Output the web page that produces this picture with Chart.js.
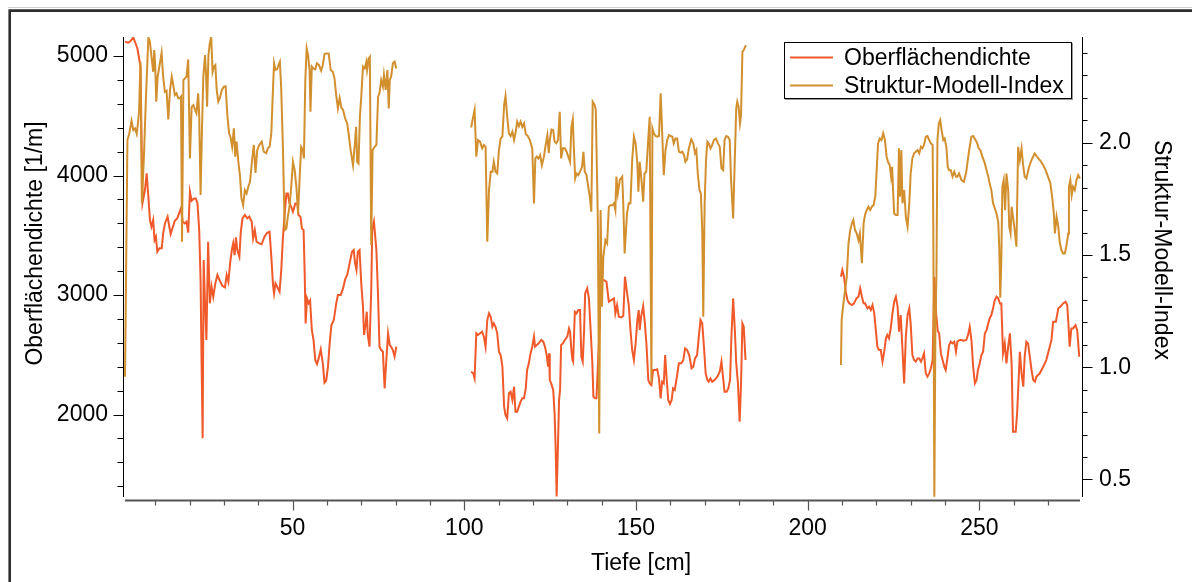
<!DOCTYPE html>
<html>
<head>
<meta charset="utf-8">
<script src="https://cdn.jsdelivr.net/npm/chart.js@4.4.1/dist/chart.umd.min.js"></script>
<style>
  body { margin: 0; background: #fff; }
  canvas { display: block; }
</style>
</head>
<body>
<canvas id="myChart" width="1192" height="582"></canvas>
<script>
// Oberflächendichte [1/m] gegen Tiefe [cm], drei Kernabschnitte
var dichte1 = [[1.2,5120],[2.1,5112],[2.8,5126],[3.6,5156],[4.1,5120],[4.8,5064],[5.3,4980],[5.7,4911],[6.3,3773],[7.0,3879],[7.5,4018],[8.0,3823],[8.45,3628],[8.9,3572],[9.4,3628],[9.8,3460],[10.2,3488],[10.6,3363],[11.2,3391],[11.9,3391],[12.3,3516],[12.9,3606],[13.6,3656],[14.1,3572],[14.5,3511],[15.0,3558],[15.7,3622],[16.4,3642],[17.0,3689],[17.5,3726],[18.0,3614],[18.6,3600],[19.1,3614],[19.6,3522],[20.1,3865],[20.6,3790],[21.3,3809],[21.8,3809],[22.3,3767],[22.8,3544],[23.2,3126],[23.5,2429],[23.8,1801],[24.1,3293],[24.5,2931],[24.9,2624],[25.4,3447],[25.9,2931],[26.4,3070],[26.9,2986],[27.5,3098],[28.1,3168],[28.8,3120],[29.6,3076],[30.3,3065],[30.8,3168],[31.3,3112],[31.8,3265],[32.3,3377],[32.7,3433],[33.1,3335],[33.5,3483],[33.9,3377],[34.5,3321],[34.9,3522],[35.4,3642],[36.1,3670],[36.8,3642],[37.4,3656],[38.1,3614],[38.5,3474],[39.0,3544],[39.5,3447],[40.3,3433],[41.0,3425],[41.8,3488],[42.6,3522],[43.3,3530],[43.8,3321],[44.3,3084],[44.6,3014],[45.0,3098],[45.5,3070],[46.2,3028],[46.7,3210],[47.2,3488],[47.7,3684],[48.2,3851],[48.6,3851],[49.1,3767],[49.6,3739],[50.1,3698],[50.8,3767],[51.4,3767],[51.7,3670],[52.3,3656],[52.7,3558],[53.2,3544],[53.5,3210],[53.8,2763],[54.2,2972],[54.7,2931],[55.1,2953],[55.6,2708],[56.1,2624],[56.6,2457],[57.1,2423],[57.6,2470],[58.2,2546],[58.8,2429],[59.3,2267],[59.8,2284],[60.3,2401],[60.8,2596],[61.3,2749],[62.0,2791],[62.7,2931],[63.2,3000],[64.0,3000],[64.7,3056],[65.3,3131],[65.9,3168],[66.6,3265],[67.3,3363],[67.8,3377],[68.2,3265],[68.6,3210],[69.0,3363],[69.5,3377],[70.0,3098],[70.5,2903],[70.8,2666],[71.3,2763],[71.6,2861],[71.9,2666],[72.4,2568],[72.9,3042],[73.2,3544],[73.7,3614],[74.4,3377],[74.9,2986],[75.3,2568],[75.8,2540],[76.3,2526],[76.8,2219],[77.3,2457],[77.8,2680],[78.3,2582],[78.7,2568],[79.2,2540],[79.7,2485],[80.2,2568]];
var dichte2 = [[102.0,2359],[102.6,2345],[103.0,2303],[103.5,2680],[104.0,2666],[104.6,2680],[105.2,2694],[105.7,2652],[106.2,2568],[106.7,2791],[107.2,2847],[107.7,2819],[108.2,2735],[108.6,2763],[109.1,2735],[109.6,2680],[110.1,2526],[110.6,2498],[111.1,2401],[111.6,2066],[112.0,1996],[112.5,1968],[113.0,2178],[113.5,2191],[114.0,2122],[114.5,2233],[114.9,2024],[115.4,2024],[115.9,2066],[116.4,2108],[116.9,2136],[117.4,2136],[117.9,2219],[118.3,2373],[118.8,2429],[119.3,2512],[119.8,2568],[120.3,2652],[120.6,2568],[121.1,2582],[121.7,2596],[122.4,2624],[123.0,2610],[123.5,2568],[124.0,2498],[124.4,2401],[124.7,2512],[124.9,2289],[125.3,2261],[125.9,2206],[126.3,2010],[126.6,1731],[126.9,1315],[127.3,1759],[127.6,2122],[127.9,2206],[128.2,2582],[128.7,2596],[129.3,2624],[130.0,2652],[130.5,2721],[130.8,2693],[131.2,2540],[131.5,2457],[131.7,2443],[132.2,2861],[132.7,2847],[133.2,2875],[133.7,2875],[134.1,2485],[134.5,2443],[134.9,2708],[135.2,3014],[135.8,3056],[136.3,2972],[136.8,2708],[137.3,2429],[137.6,2150],[138.1,2136],[138.5,2136],[139.2,2600],[139.8,3120],[140.3,3130],[140.65,3126],[141.4,3112],[142.1,2944],[142.8,2958],[143.6,2972],[144.0,2847],[144.5,2917],[145.0,2819],[145.7,2813],[146.3,2825],[146.8,3154],[147.3,3042],[147.9,2917],[148.4,2708],[148.9,2540],[149.4,2457],[149.9,2596],[150.4,2791],[150.8,2875],[151.1,2708],[151.5,2819],[152.1,2908],[152.6,2763],[153.1,2568],[153.6,2289],[154.0,2261],[154.5,2247],[155.0,2373],[155.7,2373],[156.2,2379],[156.7,2303],[157.2,2136],[157.6,2275],[158.1,2261],[158.5,2498],[158.9,2317],[159.4,2122],[159.9,2088],[160.4,2122],[160.8,2219],[161.3,2206],[162.0,2331],[162.5,2429],[163.2,2429],[163.8,2457],[164.3,2554],[164.9,2540],[165.5,2498],[166.2,2387],[166.7,2401],[167.2,2470],[167.8,2498],[168.3,2652],[168.8,2791],[169.3,2763],[169.8,2568],[170.3,2345],[170.8,2289],[171.2,2275],[171.7,2303],[172.2,2275],[172.9,2289],[173.7,2317],[174.4,2359],[174.9,2443],[175.4,2303],[175.8,2191],[176.4,2191],[176.9,2219],[177.4,2289],[177.8,2652],[178.3,2972],[178.8,2708],[179.2,2429],[179.7,2261],[180.2,1941],[180.6,2261],[181.0,2763],[181.4,2735],[181.9,2457]];
var dichte3 = [[209.7,3154],[210.1,3210],[210.6,3154],[211.1,3028],[211.6,2958],[212.1,2931],[212.9,2917],[213.5,2931],[214.2,2972],[214.8,2986],[215.3,3056],[215.8,2986],[216.3,2931],[216.7,2931],[217.4,2889],[217.9,2903],[218.4,2875],[218.9,2917],[219.4,2847],[219.9,2694],[220.3,2568],[220.8,2540],[221.3,2540],[221.8,2443],[222.3,2526],[222.8,2638],[223.2,2666],[223.7,2638],[224.2,2721],[224.7,2847],[225.2,2944],[225.7,2986],[226.2,2903],[226.6,2694],[227.1,2833],[227.6,2554],[228.1,2261],[228.6,2652],[229.1,2833],[229.6,2889],[230.0,2763],[230.5,2498],[231.0,2457],[231.5,2443],[232.0,2470],[232.5,2470],[233.0,2443],[233.4,2470],[233.9,2512],[234.4,2345],[234.9,2317],[235.4,2345],[235.9,2387],[236.4,2457],[236.9,3150],[237.4,2850],[237.9,2700],[238.3,2680],[238.8,2512],[239.3,2457],[239.8,2401],[240.2,2373],[240.7,2470],[241.2,2582],[241.7,2610],[242.2,2596],[242.7,2610],[243.2,2526],[243.6,2610],[244.3,2624],[244.8,2624],[245.3,2618],[246.2,2624],[246.7,2665],[247.2,2735],[247.7,2624],[248.2,2400],[248.7,2261],[249.2,2289],[249.6,2373],[250.1,2428],[250.6,2498],[251.1,2526],[251.6,2679],[252.1,2707],[252.6,2763],[253.0,2805],[253.5,2833],[254.0,2889],[254.5,2958],[255.0,2986],[255.5,2972],[256.0,2930],[256.4,2930],[256.9,2512],[257.4,2596],[257.9,2428],[258.4,2568],[258.9,2679],[259.4,2428],[259.8,1857],[260.6,1857],[261.0,2010],[261.4,2261],[261.8,2526],[262.3,2345],[262.8,2233],[263.2,2484],[263.7,2610],[264.2,2596],[264.7,2484],[265.2,2373],[265.7,2289],[266.2,2275],[266.6,2317],[267.6,2345],[268.6,2400],[269.5,2456],[270.5,2568],[271.0,2624],[271.5,2777],[272.3,2777],[273.0,2889],[273.6,2903],[274.4,2930],[275.1,2944],[275.6,2916],[276.0,2735],[276.3,2568],[276.8,2721],[277.3,2721],[278.0,2749],[278.5,2707],[279.1,2484]];

// Struktur-Modell-Index gegen Tiefe [cm]
var smi1 = [[1.2,0.958],[1.9,2.012],[2.4,2.039],[3.1,2.098],[3.6,2.056],[4.1,2.064],[4.6,2.039],[5.05,2.098],[5.3,2.146],[5.7,2.361],[6.1,1.730],[6.7,1.938],[7.3,2.205],[8.0,2.469],[8.45,2.45],[8.9,2.383],[9.4,2.316],[9.7,2.413],[10.0,2.339],[10.3,2.183],[10.7,2.294],[11.2,2.339],[11.85,2.401],[12.3,2.294],[12.8,2.227],[13.3,2.232],[13.8,2.104],[14.3,2.235],[14.8,2.294],[15.2,2.261],[15.7,2.212],[16.2,2.220],[16.7,2.198],[17.2,2.198],[17.5,2.205],[17.8,1.559],[18.2,2.279],[18.6,2.287],[19.1,2.294],[19.6,2.371],[20.1,1.930],[20.6,2.160],[21.1,2.168],[21.6,2.146],[22.0,2.131],[22.5,2.220],[22.8,2.123],[23.2,1.767],[23.6,2.056],[24.0,2.294],[24.5,2.391],[24.8,2.302],[25.1,2.160],[25.5,2.391],[25.9,2.443],[26.3,2.472],[26.7,2.316],[27.1,2.339],[27.5,2.346],[27.9,2.235],[28.35,2.183],[28.8,2.198],[29.4,2.235],[30.0,2.250],[30.5,2.252],[31.0,2.123],[31.5,2.042],[31.9,2.027],[32.4,1.982],[32.9,2.064],[33.3,1.938],[33.7,2.005],[34.2,1.915],[34.7,1.849],[35.1,1.752],[35.6,1.722],[36.1,1.789],[36.6,1.774],[37.1,1.804],[37.6,1.826],[38.2,1.923],[38.7,1.990],[39.2,1.866],[39.7,1.967],[40.3,1.990],[41.0,2.005],[41.6,1.96],[42.3,1.953],[42.8,1.975],[43.3,1.982],[43.8,2.042],[44.2,2.205],[44.6,2.354],[45.0,2.324],[45.5,2.327],[45.9,2.346],[46.3,2.361],[46.7,2.235],[47.2,1.967],[47.7,1.611],[48.2,1.618],[48.6,1.670],[49.1,1.715],[49.6,1.804],[50.1,1.915],[50.6,1.878],[51.1,1.804],[51.6,1.685],[52.0,1.826],[52.5,1.982],[53.0,1.967],[53.3,1.930],[53.7,2.279],[54.1,2.420],[54.5,2.391],[54.95,2.324],[55.2,2.138],[55.6,2.339],[56.0,2.331],[56.6,2.327],[57.1,2.354],[57.7,2.346],[58.3,2.321],[58.8,2.346],[59.3,2.395],[59.8,2.398],[60.5,2.398],[61.1,2.324],[61.7,2.316],[62.2,2.287],[62.7,2.212],[63.2,2.153],[63.7,2.198],[64.2,2.157],[64.7,2.146],[65.3,2.108],[65.9,2.086],[66.3,2.042],[66.9,1.967],[67.6,1.900],[68.1,1.990],[68.5,2.071],[68.8,1.915],[69.2,1.908],[69.6,2.116],[70.0,2.205],[70.5,2.339],[71.0,2.331],[71.5,2.361],[71.7,2.324],[72.2,2.376],[72.5,2.383],[72.9,1.544],[73.3,1.967],[73.9,1.982],[74.4,1.990],[74.9,2.205],[75.3,2.220],[75.8,2.279],[76.3,2.250],[76.6,2.302],[77.1,2.235],[77.6,2.324],[78.0,2.153],[78.3,2.279],[78.7,2.294],[79.2,2.354],[79.7,2.361],[80.2,2.331]];
var smi2 = [[102.0,2.068],[102.4,2.101],[103.0,2.146],[103.5,1.938],[104.0,2.012],[104.6,2.005],[105.2,1.975],[105.7,1.990],[106.2,1.982],[106.7,1.559],[107.2,1.789],[107.7,1.871],[108.2,1.871],[108.6,1.915],[109.1,1.871],[109.6,1.863],[110.1,1.967],[110.6,2.019],[111.1,2.027],[111.6,2.168],[112.0,2.208],[112.5,2.116],[113.0,2.042],[113.5,2.030],[114.0,2.049],[114.5,2.012],[114.9,2.042],[115.4,2.094],[115.9,2.074],[116.4,2.094],[116.9,2.071],[117.4,2.086],[117.9,2.039],[118.5,2.030],[119.1,2.012],[119.8,1.975],[120.3,1.730],[120.7,1.930],[121.1,1.938],[121.6,1.930],[122.1,1.945],[122.6,1.900],[123.2,1.938],[123.7,1.990],[124.2,2.034],[124.6,1.953],[124.9,2.012],[125.4,2.059],[125.9,2.057],[126.3,2.005],[126.8,1.997],[127.3,2.012],[127.8,2.138],[128.2,1.930],[128.7,1.975],[129.3,1.975],[129.8,1.960],[130.3,1.938],[130.8,1.915],[131.2,2.071],[131.6,2.104],[131.9,1.982],[132.3,1.841],[132.7,1.863],[133.2,1.856],[133.7,1.871],[134.3,1.893],[134.7,1.960],[135.1,1.871],[135.6,1.856],[136.1,1.804],[136.6,1.752],[137.0,1.693],[137.4,2.183],[138.0,2.168],[138.3,2.146],[138.9,1.656],[139.3,0.705],[139.7,1.700],[140.1,1.270],[140.5,1.492],[141.1,1.566],[141.6,1.552],[142.1,1.715],[142.6,1.722],[143.1,1.722],[143.6,1.730],[144.0,1.700],[144.3,1.849],[144.7,1.774],[145.3,1.834],[146.0,1.849],[146.3,1.730],[146.7,1.507],[147.1,1.611],[147.4,1.685],[147.9,1.730],[148.4,1.730],[148.9,1.923],[149.4,2.027],[149.9,1.997],[150.4,1.908],[150.7,1.782],[151.1,1.915],[151.6,1.834],[152.1,1.737],[152.5,1.863],[153.0,1.871],[153.5,1.997],[154.0,2.116],[154.2,1.611],[154.5,0.928],[154.8,2.064],[155.2,2.042],[155.7,2.030],[156.2,2.027],[156.7,2.030],[157.2,2.220],[157.6,2.057],[158.1,1.856],[158.6,1.967],[159.1,2.012],[159.6,2.034],[160.1,2.030],[160.6,2.027],[161.0,1.997],[161.5,2.019],[162.0,2.019],[162.5,1.960],[163.0,1.956],[163.5,1.960],[164.0,1.945],[164.4,1.915],[164.9,1.926],[165.4,1.975],[166.1,2.015],[166.7,1.997],[167.2,1.953],[167.6,1.967],[168.0,1.863],[168.5,1.789],[168.9,1.774],[169.3,1.611],[169.6,1.225],[170.0,1.730],[170.4,1.923],[170.8,2.005],[171.2,1.997],[171.7,1.975],[172.2,1.990],[172.7,2.012],[173.3,2.019],[173.9,1.997],[174.4,1.982],[174.9,1.886],[175.4,1.878],[175.8,2.012],[176.3,2.030],[176.8,2.027],[177.3,2.012],[177.7,1.834],[178.3,1.663],[178.8,1.938],[179.2,2.153],[179.5,2.183],[179.9,2.160],[180.3,2.086],[180.6,2.123],[181.0,2.405],[181.4,2.413],[182.0,2.435]];
var smi3 = [[209.7,1.010],[209.9,1.210],[210.3,1.269],[210.9,1.344],[211.4,1.403],[211.9,1.552],[212.4,1.611],[212.9,1.641],[213.3,1.656],[213.8,1.611],[214.3,1.596],[214.8,1.566],[215.2,1.596],[215.8,1.463],[216.3,1.641],[216.7,1.678],[217.2,1.700],[217.7,1.715],[218.2,1.700],[218.7,1.715],[219.2,1.722],[219.7,1.760],[220.1,1.878],[220.5,1.997],[221.0,2.019],[221.5,2.012],[222.0,2.042],[222.5,2.012],[223.0,1.938],[223.4,1.915],[223.9,1.900],[224.3,1.849],[224.6,1.893],[224.9,1.782],[225.2,1.685],[225.7,1.678],[226.2,1.678],[226.6,1.975],[226.9,1.760],[227.3,1.967],[227.6,1.730],[228.1,1.789],[228.6,1.670],[229.1,1.626],[229.6,1.730],[230.0,1.863],[230.5,1.930],[231.0,1.953],[231.5,1.960],[232.0,1.967],[232.5,1.953],[233.0,1.982],[233.4,1.975],[233.9,1.990],[234.4,2.027],[234.9,2.030],[235.4,2.012],[235.9,1.997],[236.4,1.990],[236.6,1.611],[236.9,0.423],[237.2,1.166],[237.5,1.403],[237.8,2.012],[238.2,2.086],[238.6,2.101],[239.0,2.057],[239.5,2.012],[239.9,2.019],[240.4,1.982],[240.8,1.893],[241.2,1.878],[241.7,1.878],[242.2,1.849],[242.7,1.871],[243.2,1.849],[243.6,1.849],[244.1,1.863],[244.8,1.834],[245.5,1.826],[246.2,1.871],[246.7,1.930],[247.2,1.982],[247.7,2.027],[248.2,2.030],[248.9,2.012],[249.4,1.997],[249.8,1.975],[250.3,1.967],[250.9,1.938],[251.6,1.908],[252.1,1.878],[252.6,1.849],[253.0,1.819],[253.5,1.789],[254.0,1.730],[254.5,1.708],[255.0,1.685],[255.5,1.648],[255.8,1.537],[256.1,1.31],[256.4,1.478],[256.7,1.804],[257.1,1.834],[257.5,1.700],[257.9,1.863],[258.4,1.789],[258.7,1.626],[259.1,1.596],[259.4,1.715],[259.8,1.670],[260.3,1.611],[260.8,1.537],[261.3,1.982],[261.8,1.923],[262.3,1.975],[262.7,1.908],[263.2,1.849],[263.7,1.841],[264.5,1.893],[265.2,1.923],[266.1,1.952],[266.8,1.938],[267.6,1.923],[268.6,1.901],[269.3,1.878],[270.0,1.849],[270.7,1.819],[271.3,1.745],[271.7,1.685],[272.0,1.596],[272.5,1.670],[273.0,1.626],[273.4,1.559],[273.9,1.522],[274.4,1.507],[274.9,1.507],[275.4,1.544],[275.9,1.596],[276.1,1.804],[276.5,1.834],[276.9,1.767],[277.3,1.804],[277.8,1.789],[278.3,1.834],[278.8,1.856],[279.3,1.841]];

// tick labels
var xTicks = [50, 100, 150, 200, 250];
var dichteTicks = [2000, 3000, 4000, 5000];
var smiTicks = [0.5, 1.0, 1.5, 2.0];

var FONT = '"Liberation Sans", Arial, sans-serif';
var ROT = '#f0592a';
var GOLD = '#d28f2e';

// Abschnitte aneinanderhaengen, dazwischen eine Luecke (null)
function baueDaten(teile) {
    let out = [];
    teile.forEach((teil, i) => {
        if (i > 0) {
            let vorher = teile[i - 1];
            out.push({ x: (vorher[vorher.length - 1][0] + teil[0][0]) / 2, y: null });
        }
        teil.forEach((p) => { out.push({ x: p[0], y: p[1] }); });
    });
    return out;
}

function linie(ctx, x1, y1, x2, y2) {
    ctx.beginPath();
    ctx.moveTo(x1, y1);
    ctx.lineTo(x2, y2);
    ctx.stroke();
}

// Achsen, Striche, Titel, Legende und Rahmen im Igor-Stil
var igorPlugin = {
    id: 'igor',
    afterDraw(chart) {
        let ctx = chart.ctx;
        let a = chart.chartArea;
        let sx = chart.scales.x, sl = chart.scales.yL, sr = chart.scales.yR;
        ctx.save();

        // Rahmen
        ctx.strokeStyle = '#cfcfcf';
        ctx.lineWidth = 1;
        linie(ctx, 8, 7.5, 1192, 7.5);
        ctx.strokeStyle = '#2e2e2e';
        ctx.lineWidth = 2.6;
        ctx.beginPath();
        ctx.moveTo(9.7, 582);
        ctx.lineTo(9.7, 10.6);
        ctx.lineTo(1192, 10.6);
        ctx.stroke();

        // linke Achse
        ctx.strokeStyle = '#000';
        ctx.lineWidth = 1;
        let xl = a.left - 0.5;
        linie(ctx, xl, a.top, xl, a.bottom);
        for (let v = 1400; v <= 5000; v += 200) {
            let y = Math.round(sl.getPixelForValue(v)) + 0.5;
            let len = (v % 1000 === 0) ? 10 : 6;
            linie(ctx, xl - len, y, xl, y);
        }

        // rechte Achse
        let xr = a.right + 0.5;
        linie(ctx, xr, a.top, xr, a.bottom);
        for (let k = 5; k <= 24; k++) {
            let y = Math.round(sr.getPixelForValue(k / 10)) + 0.5;
            let len = (k % 5 === 0) ? 10 : 5;
            linie(ctx, xr, y, xr + len, y);
        }

        // untere Achse
        ctx.strokeStyle = '#555';
        ctx.lineWidth = 2;
        let yb = a.bottom + 3.5;
        linie(ctx, a.left + 1, yb, a.right - 2, yb);
        ctx.lineWidth = 1.2;
        for (let v = 10; v <= 270; v += 10) {
            let x = Math.round(sx.getPixelForValue(v)) + 0.5;
            let len = (v % 50 === 0) ? 10 : 5;
            linie(ctx, x, yb, x, yb + len);
        }

        // Achsentitel
        ctx.fillStyle = '#000';
        ctx.font = '23px ' + FONT;
        ctx.textAlign = 'center';
        ctx.textBaseline = 'middle';
        ctx.fillText('Tiefe [cm]', 641, 564);

        ctx.save();
        ctx.translate(36, 243.5);
        ctx.rotate(-Math.PI / 2);
        ctx.fillText('Oberflächendichte [1/m]', 0, 0);
        ctx.restore();

        ctx.save();
        ctx.translate(1161, 250);
        ctx.rotate(Math.PI / 2);
        ctx.fillText('Struktur-Modell-Index', 0, 0);
        ctx.restore();

        // Legende
        ctx.fillStyle = '#fff';
        ctx.fillRect(784, 42, 288, 56);
        ctx.strokeStyle = '#000';
        ctx.lineWidth = 1;
        ctx.strokeRect(784.5, 42.5, 287, 56);
        ctx.strokeStyle = '#999';
        linie(ctx, 785, 99.5, 1073, 99.5);
        linie(ctx, 1072.5, 43, 1072.5, 100);

        let ds = chart.data.datasets;
        let zeilen = [57.5, 85.5];
        ctx.textAlign = 'left';
        ctx.textBaseline = 'alphabetic';
        ds.forEach((d, i) => {
            ctx.strokeStyle = d.borderColor;
            ctx.lineWidth = 2;
            linie(ctx, 790, zeilen[i], 833, zeilen[i]);
            ctx.fillStyle = '#000';
            ctx.fillText(d.label, 844, zeilen[i] + 7.5);
        });

        ctx.restore();
    }
};

let ctx = document.getElementById('myChart');

let chartdata = {
    datasets: [{
        label: 'Oberflächendichte',
        data: baueDaten([dichte1, dichte2, dichte3]),
        yAxisID: 'yL',
        borderColor: ROT,
        borderWidth: 2,
        pointRadius: 0,
        tension: 0,
        order: 1
    }, {
        label: 'Struktur-Modell-Index',
        data: baueDaten([smi1, smi2, smi3]),
        yAxisID: 'yR',
        borderColor: GOLD,
        borderWidth: 2,
        pointRadius: 0,
        tension: 0,
        order: 0
    }]
};

let lineChart = new Chart(ctx, {
    type: 'line',
    data: chartdata,
    plugins: [igorPlugin],
    options: {
        responsive: false,
        animation: false,
        spanGaps: false,
        layout: { padding: { top: 37, left: 0, right: 0, bottom: 0 } },
        plugins: {
            legend: { display: false },
            tooltip: { enabled: false }
        },
        scales: {
            x: {
                type: 'linear',
                min: 0.9,
                max: 279.9,
                grid: { display: false, drawTicks: false },
                border: { display: false },
                afterBuildTicks: (s) => { s.ticks = xTicks.map((v) => ({ value: v })); },
                afterFit: (s) => { s.height = 85; },
                ticks: { padding: 18, color: '#000', font: { family: FONT, size: 23 }, maxRotation: 0 }
            },
            yL: {
                type: 'linear',
                position: 'left',
                min: 1310,
                max: 5160,
                grid: { display: false, drawTicks: false },
                border: { display: false },
                afterBuildTicks: (s) => { s.ticks = dichteTicks.map((v) => ({ value: v })); },
                afterFit: (s) => { s.width = 124; },
                ticks: { padding: 16, color: '#000', font: { family: FONT, size: 23 }, callback: (v) => String(v) }
            },
            yR: {
                type: 'linear',
                position: 'right',
                min: 0.422,
                max: 2.471,
                grid: { display: false, drawTicks: false },
                border: { display: false },
                afterBuildTicks: (s) => { s.ticks = smiTicks.map((v) => ({ value: v })); },
                afterFit: (s) => { s.width = 110; },
                ticks: { padding: 17, color: '#000', font: { family: FONT, size: 23 }, callback: (v) => v.toFixed(1) }
            }
        }
    }
});
</script>
</body>
</html>
